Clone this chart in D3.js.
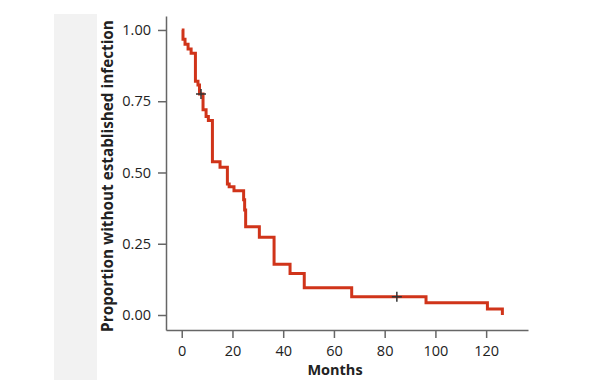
<!DOCTYPE html>
<html>
<head>
<meta charset="utf-8">
<script src="https://cdn.jsdelivr.net/npm/d3@7"></script>
<style>
  body { margin: 0; background: #fff; }
  svg text { font-family: "Open Sans", "Noto Sans", sans-serif; fill: #222; }
</style>
</head>
<body>
<div id="my_dataviz"></div>
<script>
// survival curve (months, proportion)
var months = [0, 0.5, 1.3, 2.5, 3.7, 5.4, 6.4, 7.0, 8.4, 9.6, 10.5, 12.1, 15.1, 18.0, 18.7, 20.6, 24.4, 24.8, 25.2, 30.6, 36.4, 42.7, 48.3, 67.0, 96.3, 120.5, 126.4];
var surv   = [1.0, 0.967, 0.95, 0.933, 0.918, 0.82, 0.807, 0.775, 0.72, 0.696, 0.682, 0.538, 0.518, 0.46, 0.45, 0.436, 0.404, 0.368, 0.31, 0.273, 0.178, 0.146, 0.096, 0.064, 0.043, 0.021, 0.0];
// censored observations
var censorMonths = [7.6, 84.8];
var censorSurv = [0.775, 0.064];
var xTicks = [0, 20, 40, 60, 80, 100, 120];
var yTicks = [0, 0.25, 0.5, 0.75, 1.0];

var W = 601, H = 380;
var svg = d3.select("#my_dataviz")
  .append("svg")
    .attr("width", W)
    .attr("height", H);

// grey side panel
svg.append("rect")
  .attr("x", 54).attr("y", 14)
  .attr("width", 43).attr("height", H - 14)
  .attr("fill", "#f2f2f2");

var x = d3.scaleLinear()
  .domain([-6.2, 136.5])
  .range([166, 528]);
var y = d3.scaleLinear()
  .domain([-0.0526, 1.049])
  .range([330, 16]);

// x axis
var gx = svg.append("g")
  .attr("transform", "translate(0,330)")
  .call(d3.axisBottom(x).tickValues(xTicks).tickFormat(d3.format("d")).tickSize(8).tickSizeOuter(0));
gx.select(".domain").attr("stroke", "#666").attr("stroke-width", 1.5);
gx.selectAll(".tick line").attr("stroke", "#666").attr("stroke-width", 1.5);
gx.selectAll(".tick text").attr("font-size", 14.5).attr("dy", "1.0em").attr("fill", "#222");

// y axis
var gy = svg.append("g")
  .attr("transform", "translate(166,0)")
  .call(d3.axisLeft(y).tickValues(yTicks).tickFormat(d3.format(".2f")).tickSize(8).tickSizeOuter(0));
gy.select(".domain").attr("stroke", "#666").attr("stroke-width", 1.5);
gy.selectAll(".tick line").attr("stroke", "#666").attr("stroke-width", 1.5);
gy.selectAll(".tick text").attr("font-size", 14.5).attr("x", -15).attr("fill", "#222");

// axis titles
svg.append("text")
  .attr("x", 335).attr("y", 375)
  .attr("text-anchor", "middle")
  .attr("font-size", 14.5).attr("font-weight", "bold")
  .text("Months");

svg.append("text")
  .attr("transform", "translate(113,176) rotate(-90)")
  .attr("text-anchor", "middle")
  .attr("font-size", 15.3).attr("font-weight", "bold")
  .text("Proportion without established infection");

// step curve
var data = months.map(function(m, i) { return { t: m, s: surv[i] }; });
svg.append("path")
  .datum(data)
  .attr("fill", "none")
  .attr("stroke", "#d0341a")
  .attr("stroke-width", 3)
  .attr("d", d3.line()
    .curve(d3.curveStepAfter)
    .x(function(d) { return x(d.t); })
    .y(function(d) { return y(d.s); }));

// censor marks
censorMonths.forEach(function(m, i) {
  var cx = x(m), cy = y(censorSurv[i]);
  svg.append("path")
    .attr("d", "M" + (cx - 5) + "," + cy + "H" + (cx + 5) + "M" + cx + "," + (cy - 5) + "V" + (cy + 5))
    .attr("stroke", "#333")
    .attr("stroke-width", 1.5)
    .attr("fill", "none");
});
</script>
</body>
</html>
